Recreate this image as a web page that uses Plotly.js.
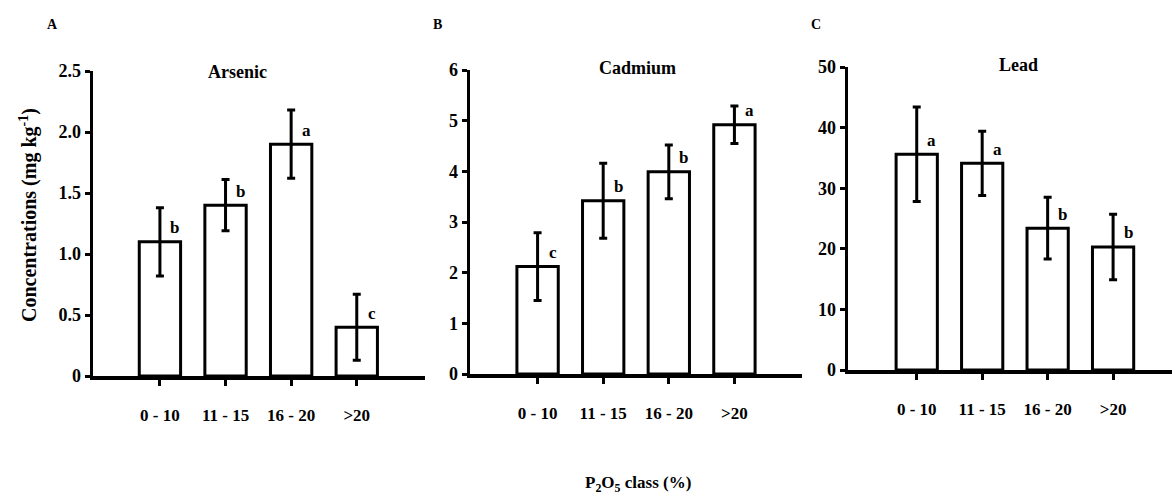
<!DOCTYPE html>
<html>
<head>
<meta charset="utf-8">
<script src="https://cdn.plot.ly/plotly-3.0.1.min.js"></script>
<style>html,body{margin:0;padding:0;background:#fff;}#chart{width:1172px;height:498px;}</style>
</head>
<body>
<div id="chart"></div>
<script>
const categories = ["0 - 10", "11 - 15", "16 - 20", ">20"];

const arsenicValues = [1.10, 1.40, 1.90, 0.40];
const arsenicErrors = [0.28, 0.21, 0.28, 0.27];
const arsenicLetters = ["b", "b", "a", "c"];

const cadmiumValues = [2.12, 3.42, 3.99, 4.92];
const cadmiumErrors = [0.67, 0.74, 0.53, 0.37];
const cadmiumLetters = ["c", "b", "b", "a"];

const leadValues = [35.6, 34.1, 23.4, 20.3];
const leadErrors = [7.8, 5.3, 5.1, 5.4];
const leadLetters = ["a", "a", "b", "b"];

const arsenicTicks = [0, 0.5, 1.0, 1.5, 2.0, 2.5];
const arsenicTickText = ["0", "0.5", "1.0", "1.5", "2.0", "2.5"];
const cadmiumTicks = [0, 1, 2, 3, 4, 5, 6];
const leadTicks = [0, 10, 20, 30, 40, 50];

const panelTitles = ["Arsenic", "Cadmium", "Lead"];
const panelLetters = ["A", "B", "C"];

const FONT = "Liberation Serif, Times New Roman, serif";
const idx = categories.map((c, i) => i);

function barTrace(vals, errs, xa, ya) {
  return {
    type: "bar", x: idx, y: vals, xaxis: xa, yaxis: ya, width: 0.63,
    marker: {color: "white", line: {color: "black", width: 3}},
    error_y: {type: "data", array: errs, visible: true, color: "black", thickness: 3, width: 4},
    hoverinfo: "skip", showlegend: false
  };
}

const data = [
  barTrace(arsenicValues, arsenicErrors, "x", "y"),
  barTrace(cadmiumValues, cadmiumErrors, "x2", "y2"),
  barTrace(leadValues, leadErrors, "x3", "y3")
];

function xAxis(domain, range, anchor) {
  return {
    domain: domain, range: range, anchor: anchor,
    tickmode: "array", tickvals: idx, ticktext: categories,
    showline: true, linewidth: 3.5, linecolor: "black",
    ticks: "outside", ticklen: 6, tickwidth: 3, tickcolor: "black",
    ticklabelstandoff: 15,
    showgrid: false, zeroline: false, fixedrange: true,
    tickfont: {family: FONT, size: 17, color: "black", weight: "bold"}
  };
}
function yAxis(domain, range, anchor, tv, tt) {
  return {
    domain: domain, range: range, anchor: anchor,
    tickmode: "array", tickvals: tv, ticktext: tt || tv.map(String),
    showline: true, linewidth: 3.5, linecolor: "black",
    ticks: "outside", ticklen: 5, tickwidth: 3, tickcolor: "black",
    showgrid: false, zeroline: false, fixedrange: true,
    tickfont: {family: FONT, size: 18, color: "black", weight: "bold"}
  };
}

const annotations = [];
function letters(vals, labs, xr, yr) {
  vals.forEach((v, i) => {
    annotations.push({
      x: i, y: v, xref: xr, yref: yr, text: labs[i], showarrow: false,
      xshift: 15, yshift: 14, xanchor: "center", yanchor: "middle",
      font: {family: FONT, size: 17, color: "black", weight: "bold"}
    });
  });
}
letters(arsenicValues, arsenicLetters, "x", "y");
letters(cadmiumValues, cadmiumLetters, "x2", "y2");
letters(leadValues, leadLetters, "x3", "y3");

const titlePos = [[237, 72], [637, 68], [1018, 65]];
const letterPos = [[52, 25], [437, 25], [816, 25]];
panelTitles.forEach((t, i) => {
  annotations.push({
    x: titlePos[i][0] / 1172, y: 1 - titlePos[i][1] / 498, xref: "paper", yref: "paper",
    text: t, showarrow: false, xanchor: "center", yanchor: "middle",
    font: {family: FONT, size: 18, color: "black", weight: "bold"}
  });
  annotations.push({
    x: letterPos[i][0] / 1172, y: 1 - letterPos[i][1] / 498, xref: "paper", yref: "paper",
    text: panelLetters[i], showarrow: false, xanchor: "center", yanchor: "middle",
    font: {family: FONT, size: 14, color: "black", weight: "bold"}
  });
});
annotations.push({
  x: 28 / 1172, y: 1 - 215 / 498, xref: "paper", yref: "paper", textangle: -90,
  text: "Concentrations (mg kg<sup>-1</sup>)", showarrow: false,
  xanchor: "center", yanchor: "middle",
  font: {family: FONT, size: 20, color: "black", weight: "bold"}
});
annotations.push({
  x: 638 / 1172, y: 1 - 484 / 498, xref: "paper", yref: "paper",
  text: "P<sub>2</sub>O<sub>5</sub> class (%)", showarrow: false,
  xanchor: "center", yanchor: "middle",
  font: {family: FONT, size: 17, color: "black", weight: "bold"}
});

const layout = {
  width: 1172, height: 498,
  margin: {l: 0, r: 0, t: 0, b: 0},
  paper_bgcolor: "white", plot_bgcolor: "white",
  showlegend: false, bargap: 0.37,
  xaxis: xAxis([93 / 1172, 425 / 1172], [-1.02, 4.04], "y"),
  yaxis: yAxis([1 - 376 / 498, 1 - 71 / 498], [0, 2.5], "x", arsenicTicks, arsenicTickText),
  xaxis2: xAxis([470 / 1172, 802 / 1172], [-1.03, 4.03], "y2"),
  yaxis2: yAxis([1 - 374 / 498, 1 - 70 / 498], [0, 6], "x2", cadmiumTicks),
  xaxis3: xAxis([848 / 1172, 1], [-1.05, 3.9], "y3"),
  yaxis3: yAxis([1 - 370 / 498, 1 - 67 / 498], [0, 50], "x3", leadTicks),
  annotations: annotations
};

Plotly.newPlot("chart", data, layout, {displayModeBar: false, staticPlot: true});
</script>
</body>
</html>
